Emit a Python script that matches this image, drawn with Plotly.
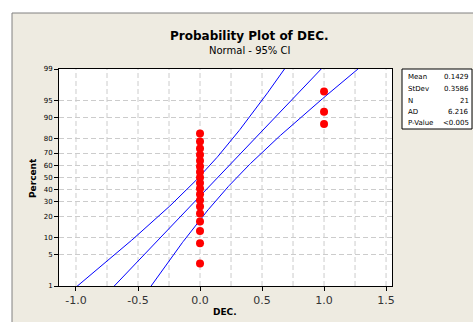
import plotly.graph_objects as go
from statistics import NormalDist
import numpy as np

# ---- data ----
dec_values = [0.0] * 18 + [1.0] * 3
stat_labels = ["Mean", "StDev", "N", "AD", "P-Value"]
stat_texts = ["0.1429", "0.3586", "21", "6.216", "<0.005"]
mean_val = 0.1429
sd_val = 0.3586
pct_ticks = [1, 5, 10, 20, 30, 40, 50, 60, 70, 80, 90, 95, 99]
x_ticks = [-1.0, -0.5, 0.0, 0.5, 1.0, 1.5]
x_tick_text = ["-1.0", "-0.5", "0.0", "0.5", "1.0", "1.5"]

nd = NormalDist()
n = len(dec_values)
xs = sorted(dec_values)
# Benard median ranks (Minitab default)
pos = [(i + 1 - 0.3) / (n + 0.4) for i in range(n)]
zs = [nd.inv_cdf(p) for p in pos]

zgrid = np.linspace(-2.6, 2.6, 200)
fit_x = mean_val + zgrid * sd_val
half = 1.96 * sd_val * np.sqrt((1 + zgrid ** 2 / 2) / n)
lo_x = fit_x - half
hi_x = fit_x + half

FONT = "DejaVu Sans"
fig = go.Figure()
for xx in [lo_x, fit_x, hi_x]:
    fig.add_trace(go.Scatter(x=xx, y=zgrid, mode="lines",
                             line=dict(color="#0000ff", width=1), hoverinfo="skip"))
fig.add_trace(go.Scatter(x=xs, y=zs, mode="markers",
                         marker=dict(color="#ff0000", size=8)))

# grid lines every 0.25 in x
grid_x = [-1.0 + 0.25 * k for k in range(11)]

W, H = 473, 322
L, R, T, B = 59, 81, 69, 36
pw, ph = W - L - R, H - T - B
def px(x): return (x - L) / pw
def py(y): return (H - B - y) / ph

GRID = "#cccccc"
DASH = "5px,3px"
shapes = [
    dict(type="rect", xref="paper", yref="paper", x0=px(12), x1=px(480), y0=py(13), y1=py(330),
         fillcolor="#eeebe1", line=dict(color="#808080", width=1), layer="below"),
    dict(type="rect", xref="paper", yref="paper", x0=0, x1=1, y0=0, y1=1,
         fillcolor="white", line=dict(width=0), layer="below"),
    dict(type="rect", xref="paper", yref="paper", x0=px(402), x1=px(472), y0=py(69), y1=py(129),
         fillcolor="white", line=dict(color="black", width=1)),
]
annotations = [
    dict(text="<b>Probability Plot of DEC.</b>", x=px(250), y=py(36), xref="paper", yref="paper",
         showarrow=False, font=dict(family=FONT, size=12, color="black"), xanchor="center", yanchor="middle"),
    dict(text="Normal - 95% CI", x=px(250), y=py(50), xref="paper", yref="paper",
         showarrow=False, font=dict(family=FONT, size=10, color="black"), xanchor="center", yanchor="middle"),
]
row_y = [77, 89, 101, 112, 123]
for lab, val, yy in zip(stat_labels, stat_texts, row_y):
    annotations.append(dict(text=lab, x=px(406), y=py(yy), xref="paper", yref="paper", showarrow=False,
                            xanchor="left", yanchor="middle", font=dict(family=FONT, size=7, color="black")))
    annotations.append(dict(text=val, x=px(471), y=py(yy), xref="paper", yref="paper", showarrow=False,
                            xanchor="right", yanchor="middle", font=dict(family=FONT, size=7, color="black")))
annotations.append(dict(text="<b>Percent</b>", x=px(33), y=py(178), xref="paper", yref="paper",
                        showarrow=False, textangle=-90, xanchor="center", yanchor="middle",
                        font=dict(family=FONT, size=9, color="black")))
annotations.append(dict(text="<b>DEC.</b>", x=px(225), y=py(312), xref="paper", yref="paper",
                        showarrow=False, xanchor="center", yanchor="middle",
                        font=dict(family=FONT, size=9, color="black")))

fig.update_layout(
    width=W, height=H, margin=dict(l=L, r=R, t=T, b=B, autoexpand=False),
    paper_bgcolor="white", plot_bgcolor="rgba(0,0,0,0)",
    showlegend=False, shapes=shapes, annotations=annotations,
    xaxis=dict(range=[-1.137, 1.548], tickvals=x_ticks, ticktext=x_tick_text, automargin=False,
               ticks="outside", ticklen=4, tickcolor="black",
               tickfont=dict(family=FONT, size=11, color="#333333"),
               showgrid=False, zeroline=False, showline=True, linecolor="black", linewidth=1, mirror=True),
    yaxis=dict(range=[nd.inv_cdf(0.01), nd.inv_cdf(0.99)], automargin=False,
               tickvals=[nd.inv_cdf(p / 100) for p in pct_ticks], ticktext=[str(p) for p in pct_ticks],
               ticks="outside", ticklen=4, tickcolor="black",
               tickfont=dict(family=FONT, size=7, color="black"),
               showgrid=True, gridcolor=GRID, griddash=DASH, gridwidth=1,
               zeroline=False, showline=True, linecolor="black", linewidth=1, mirror=True),
)
for gx in grid_x:
    fig.add_shape(type="line", xref="x", yref="paper", x0=gx, x1=gx, y0=0, y1=1,
                  line=dict(color=GRID, width=1, dash=DASH), layer="below")

fig.write_html("out.html", config={"displayModeBar": False},
               post_script="document.body.style.margin='0';document.body.style.overflow='hidden';")
